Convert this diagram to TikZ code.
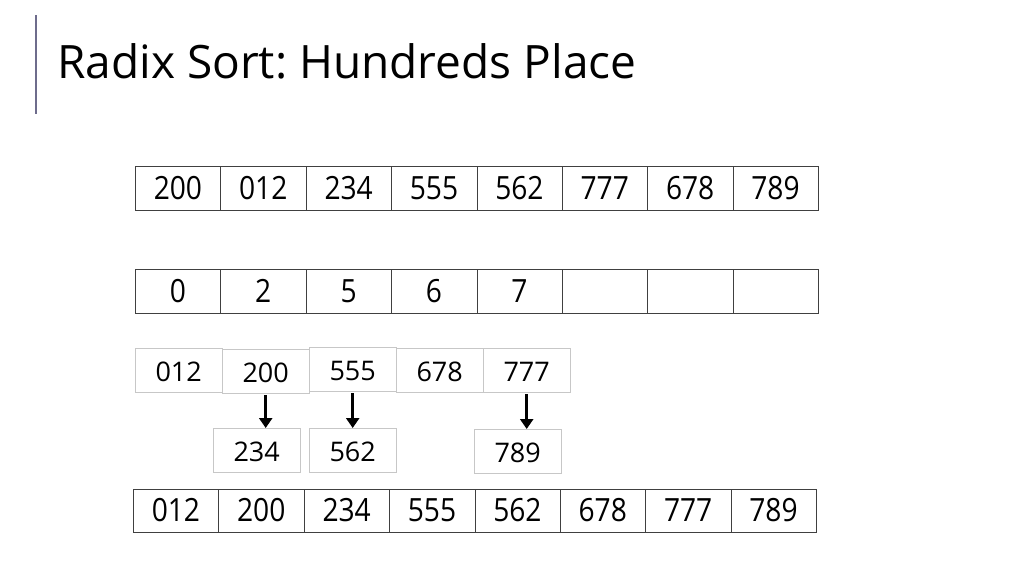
\documentclass[tikz,border=0pt]{standalone}
\usepackage{fontspec}
\setmainfont{Open Sans}
\newfontfamily\cellfont[FakeStretch=0.88]{Open Sans}
\usetikzlibrary{arrows.meta}
\definecolor{barcol}{RGB}{110,108,140}
\frenchspacing
\begin{document}
\begin{tikzpicture}[x=1pt, y=-1pt,
    cell/.style={draw=black!75, thin, minimum width=85.4pt, minimum height=44pt,
      text height=22pt, text depth=0pt,
      inner sep=0pt, anchor=north west, font=\cellfont\fontsize{32}{32}\selectfont},
    bucket/.style={draw=black!22, thin, minimum width=87pt, minimum height=44pt,
      text height=22pt, text depth=0pt,
      inner sep=0pt, anchor=north west, font=\fontsize{27}{27}\selectfont},
    drop/.style={-{Triangle[length=10pt,width=13pt]}, line width=2.6pt}]
    \useasboundingbox (0,0) rectangle (1024,576);

    \draw[barcol, line width=1.5pt] (36,15) -- (36,114);
    \node[anchor=base west, inner sep=0pt, font=\fontsize{46}{46}\selectfont] (title) at (57,78) {Radix Sort: Hundreds Place};

    \foreach \v [count=\i] in {200,012,234,555,562,777,678,789}
        \node[cell] (in\i) at ({135+85.375*(\i-1)},166) {\v};

    \foreach \v [count=\i] in {0,2,5,6,7,{},{},{}}
        \node[cell] (key\i) at ({135+85.375*(\i-1)},269) {\v};

    \node[bucket] (b012) at (135,348) {012};
    \node[bucket] (b200) at (222,349) {200};
    \node[bucket] (b555) at (309,347) {555};
    \node[bucket] (b678) at (396,348) {678};
    \node[bucket] (b777) at (483,348) {777};
    \node[bucket] (b234) at (213,428) {234};
    \node[bucket] (b562) at (309,428) {562};
    \node[bucket] (b789) at (474,429) {789};

    \draw[drop] ([yshift=-2pt]b200.south) -- (b200.south |- b234.north);
    \draw[drop] ([yshift=-2pt]b555.south) -- (b555.south |- b562.north);
    \draw[drop] ([yshift=-2pt]b777.south) -- (b777.south |- b789.north);

    \foreach \v [count=\i] in {012,200,234,555,562,678,777,789}
        \node[cell, minimum height=43pt] (out\i) at ({133+85.375*(\i-1)},489) {\v};
\end{tikzpicture}
\end{document}
